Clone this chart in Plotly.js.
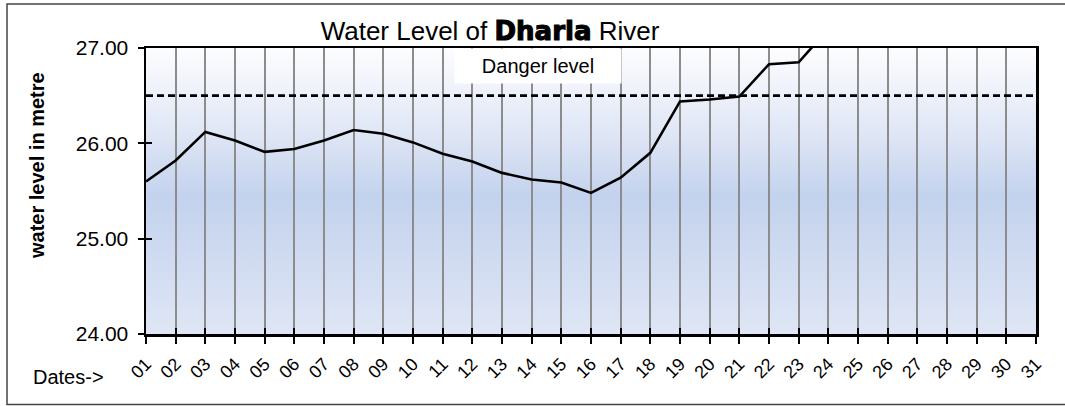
<!DOCTYPE html>
<html>
<head>
<meta charset="utf-8">
<script src="https://cdn.plot.ly/plotly-3.0.1.min.js"></script>
<style>html,body{margin:0;padding:0;background:#fff;}</style>
</head>
<body>
<div id="chart" style="width:1065px;height:406px;"></div>
<script>
// ---- data ----
const days = [1,2,3,4,5,6,7,8,9,10,11,12,13,14,15,16,17,18,19,20,21,22,23,24,25,26,27,28,29,30,31];
const dayLabels = ["01","02","03","04","05","06","07","08","09","10","11","12","13","14","15","16","17","18","19","20","21","22","23","24","25","26","27","28","29","30","31"];
const waterLevel = [25.60,25.82,26.12,26.03,25.91,25.94,26.03,26.14,26.10,26.01,25.89,25.81,25.69,25.62,25.59,25.48,25.64,25.90,26.44,26.46,26.49,26.83,26.85,27.20,null,null,null,null,null,null,null];
const dangerLevel = 26.50;
const yRange = [24, 27];
const yTicks = [24, 25, 26, 27];

const xFirst = days[0], xLast = days[days.length-1];

const level = {
  x: days, y: waterLevel, mode: 'lines', line: {color: '#000', width: 2.6},
  showlegend: false, connectgaps: false, hoverinfo: 'x+y'
};
const danger = {
  x: days, y: days.map(() => dangerLevel), mode: 'lines', name: 'Danger level',
  line: {color: '#000', width: 2.6, dash: '7px,4px'}, showlegend: false,
  xaxis: 'x2', yaxis: 'y2'
};

const W = 1065, H = 406;
const L = 146, R = 29, T = 48, B = 72;
const pw = W - L - R, ph = H - T - B;
const px = v => (v - L) / pw;
const py = v => (H - B - v) / ph;

const font = 'Liberation Sans, Arial, sans-serif';

const gradSvg = "<svg xmlns='http://www.w3.org/2000/svg' width='10' height='100' viewBox='0 0 10 100' preserveAspectRatio='none'>" +
  "<defs><linearGradient id='g' x1='0' y1='0' x2='0' y2='1'>" +
  "<stop offset='0' stop-color='#fdfdff'/><stop offset='0.3' stop-color='#dfe6f5'/>" +
  "<stop offset='0.52' stop-color='#c3d2ed'/><stop offset='1' stop-color='#dfe6f5'/>" +
  "</linearGradient></defs><rect x='0' y='0' width='10' height='100' fill='url(#g)'/></svg>";
const gradUri = 'data:image/svg+xml;charset=utf-8,' + encodeURIComponent(gradSvg);

const layout = {
  width: W, height: H,
  margin: {l: L, r: R, t: T, b: B},
  paper_bgcolor: '#fff', plot_bgcolor: '#dfe6f5',
  font: {family: font, color: '#000'},
  title: {
    text: 'Water Level of <span style="font-family:\'DejaVu Sans\';font-weight:bold;stroke:#000;stroke-width:1.1px">Dharla</span> River',
    font: {size: 26, family: font, color: '#000'},
    xref: 'paper', x: px(490), xanchor: 'center',
    yref: 'container', y: 1 - 31 / H, yanchor: 'middle'
  },
  images: [{
    source: gradUri, xref: 'paper', yref: 'paper', x: 0, y: 1, sizex: 1, sizey: 1,
    xanchor: 'left', yanchor: 'top', sizing: 'stretch', layer: 'below'
  }],
  xaxis: {
    range: [xFirst, xLast], tickvals: days, ticktext: dayLabels,
    tickangle: -45, tickfont: {size: 18, family: font}, ticklabelstandoff: 3,
    ticks: 'outside', ticklen: 7, tickwidth: 2, tickcolor: '#000',
    showline: true, linecolor: '#000', linewidth: 2.5, mirror: true,
    showgrid: true, gridcolor: '#8c8c8c', gridwidth: 2,
    zeroline: false, fixedrange: true
  },
  yaxis: {
    range: yRange, tickvals: yTicks, tickformat: '.2f',
    tickfont: {size: 21, family: font}, ticklabelstandoff: 5,
    ticks: 'outside', ticklen: 6, tickwidth: 2, tickcolor: '#000',
    showline: true, linecolor: '#000', linewidth: 2.5, mirror: true,
    showgrid: false, zeroline: false, fixedrange: true
  },
  xaxis2: {
    overlaying: 'x', anchor: 'y2', side: 'bottom', range: [xFirst, xLast], tickvals: days,
    showticklabels: false, ticks: 'inside', ticklen: 6, tickwidth: 2, tickcolor: '#000',
    showline: false, showgrid: false, zeroline: false, fixedrange: true
  },
  yaxis2: {
    overlaying: 'y', anchor: 'x2', side: 'left', range: yRange, tickvals: yTicks,
    showticklabels: false, ticks: 'inside', ticklen: 6, tickwidth: 2, tickcolor: '#000',
    showline: false, showgrid: false, zeroline: false, fixedrange: true
  },
  annotations: [
    {text: 'Danger level', xref: 'paper', yref: 'paper', x: px(538), y: py(66),
     xanchor: 'center', yanchor: 'middle', showarrow: false,
     font: {size: 20, family: font, color: '#000'},
     bgcolor: '#fff', width: 166, height: 34, borderpad: 0},
    {text: '<b>water level in metre</b>', xref: 'paper', yref: 'paper', x: px(37), y: py(166),
     xanchor: 'center', yanchor: 'middle', textangle: -90, showarrow: false,
     font: {size: 20, family: font, color: '#000'}},
    {text: 'Dates->', xref: 'paper', yref: 'paper', x: px(68), y: py(377),
     xanchor: 'center', yanchor: 'middle', showarrow: false,
     font: {size: 20, family: font, color: '#000'}}
  ],
  shapes: [
    {type: 'rect', xref: 'paper', yref: 'paper', x0: px(7), x1: px(1085), y0: py(404.5), y1: py(4),
     line: {color: '#444', width: 1.5}, fillcolor: 'rgba(0,0,0,0)', layer: 'below'}
  ]
};

Plotly.newPlot('chart', [level, danger], layout, {displayModeBar: false, staticPlot: true});
</script>
</body>
</html>
